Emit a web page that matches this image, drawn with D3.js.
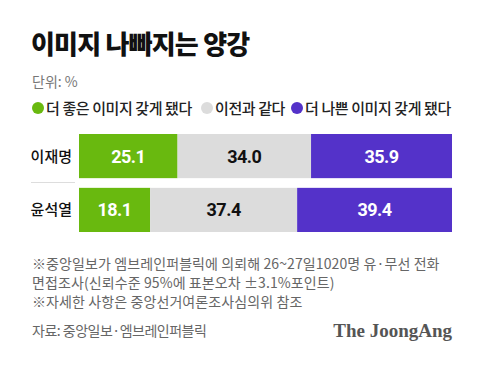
<!DOCTYPE html>
<html>
<head>
<meta charset="utf-8">
<script src="https://cdn.jsdelivr.net/npm/d3@7"></script>
<style>
  body { margin: 0; background: #fff; }
  svg { display: block; }
  .kr { font-family: "Noto Sans CJK KR", "Noto Sans", sans-serif; }
  .num { font-family: Roboto, "Liberation Sans", sans-serif; font-weight: 700; }
</style>
</head>
<body>
<div id="chart"></div>
<script>
const W = 480, H = 371;

const candidates = ["이재명", "윤석열"];
const better = [25.1, 18.1];
const same = [34.0, 37.4];
const worse = [35.9, 39.4];
const seriesNames = ["더 좋은 이미지 갖게 됐다", "이전과 같다", "더 나쁜 이미지 갖게 됐다"];
const colors = ["#69b90f", "#dcdcdc", "#5432c9"];
const labelColors = ["#fff", "#111", "#fff"];
const notes = [
  "※중앙일보가 엠브레인퍼블릭에 의뢰해 26~27일1020명 유·무선 전화",
  "면접조사(신뢰수준 95%에 표본오차 ±3.1%포인트)",
  "※자세한 사항은 중앙선거여론조사심의위 참조"
];

const svg = d3.select("#chart").append("svg")
  .attr("width", W)
  .attr("height", H);

// title
svg.append("text")
  .attr("class", "kr")
  .attr("x", 31).attr("y", 54)
  .attr("font-size", 26).attr("font-weight", 900)
  .attr("letter-spacing", -0.8)
  .attr("fill", "#111")
  .text("이미지 나빠지는 양강");

svg.append("text")
  .attr("class", "kr")
  .attr("x", 32).attr("y", 87)
  .attr("font-size", 14)
  .attr("fill", "#777")
  .text("단위: %");

// legend
const legendX = [38, 207, 297];
const leg = svg.selectAll(".leg")
  .data(seriesNames)
  .enter().append("g")
  .attr("transform", (d, i) => "translate(" + legendX[i] + ",108)");
leg.append("circle").attr("r", 6).attr("fill", (d, i) => colors[i]);
leg.append("text")
  .attr("class", "kr")
  .attr("x", 8).attr("y", 5.5)
  .attr("font-size", 15).attr("font-weight", 500)
  .attr("letter-spacing", -0.4)
  .attr("fill", "#222")
  .text(d => d);

// bars
const y = d3.scaleBand()
  .domain(candidates)
  .range([134, 232])
  .paddingInner(0.18);

const rows = candidates.map((c, i) => {
  const vals = [better[i], same[i], worse[i]];
  const x = d3.scaleLinear().domain([0, d3.sum(vals)]).range([79, 452]);
  let acc = 0;
  return vals.map((v, k) => {
    const seg = { cand: c, k: k, v: v, x0: x(acc), x1: x(acc + v) };
    acc += v;
    return seg;
  });
});

const segs = svg.selectAll(".seg")
  .data(rows.flat())
  .enter().append("g");

segs.append("rect")
  .attr("x", d => d.x0)
  .attr("y", d => y(d.cand))
  .attr("width", d => d.x1 - d.x0)
  .attr("height", y.bandwidth())
  .attr("fill", d => colors[d.k]);

segs.append("text")
  .attr("class", "num")
  .attr("x", d => (d.x0 + d.x1) / 2)
  .attr("y", d => y(d.cand) + y.bandwidth() / 2 + 6.5)
  .attr("text-anchor", "middle")
  .attr("font-size", 18)
  .attr("letter-spacing", -0.5)
  .attr("fill", d => labelColors[d.k])
  .text(d => d.v.toFixed(1));

svg.selectAll(".cand")
  .data(candidates)
  .enter().append("text")
  .attr("class", "kr")
  .attr("x", 72)
  .attr("y", d => y(d) + y.bandwidth() / 2 + 5.5)
  .attr("text-anchor", "end")
  .attr("font-size", 15).attr("font-weight", 500)
  .attr("fill", "#111")
  .text(d => d);

svg.append("line")
  .attr("x1", 31).attr("x2", 75)
  .attr("y1", 182.5).attr("y2", 182.5)
  .attr("stroke", "#ddd");

// notes
svg.selectAll(".note")
  .data(notes)
  .enter().append("text")
  .attr("class", "kr")
  .attr("x", 32)
  .attr("y", (d, i) => [268.5, 288, 307][i])
  .attr("font-size", 14)
  .attr("letter-spacing", 0.1)
  .attr("fill", "#666")
  .text(d => d);

svg.append("text")
  .attr("class", "kr")
  .attr("x", 32).attr("y", 336)
  .attr("font-size", 14)
  .attr("letter-spacing", -0.5)
  .attr("fill", "#666")
  .text("자료: 중앙일보·엠브레인퍼블릭");

svg.append("text")
  .attr("x", 452).attr("y", 337)
  .attr("text-anchor", "end")
  .attr("font-family", "'Liberation Serif', serif")
  .attr("font-weight", 700)
  .attr("font-size", 19)
  .attr("fill", "#555")
  .text("The JoongAng");
</script>
</body>
</html>
